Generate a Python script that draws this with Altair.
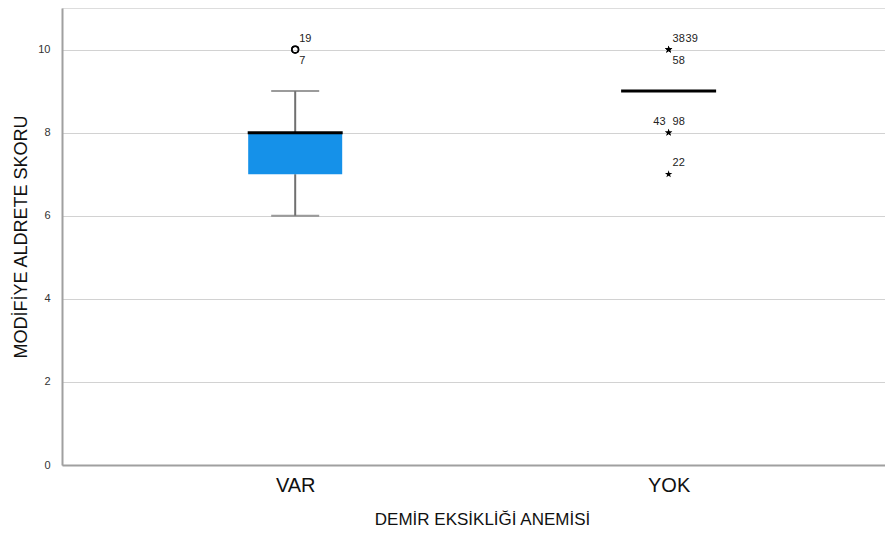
import json
import altair as alt
import pandas as pd

# ---- data ----
groups = ["VAR", "YOK"]
whisker_low = [6, 9]
q1 = [7, 9]
median = [8, 9]
q3 = [8, 9]
whisker_high = [9, 9]

out_group = ["VAR", "VAR", "YOK", "YOK", "YOK", "YOK", "YOK", "YOK"]
out_value = [10, 10, 10, 10, 10, 8, 8, 7]
out_case = ["19", "7", "38", "39", "58", "43", "98", "22"]
out_kind = ["outlier", "outlier", "extreme", "extreme", "extreme", "extreme", "extreme", "extreme"]
out_place = ["ur", "lr", "ur", "ur2", "lr", "ul", "ur", "ur"]

box = pd.DataFrame({
    "group": groups, "xi": list(range(len(groups))),
    "wl": whisker_low, "q1": q1, "med": median, "q3": q3, "wh": whisker_high,
})
out = pd.DataFrame({
    "group": out_group, "value": out_value, "case": out_case,
    "kind": out_kind, "place": out_place,
})
out["xi"] = out["group"].map({g: i for i, g in enumerate(groups)})

FONT = "Liberation Sans"
label_expr = json.dumps(groups) + "[datum.value]"

x = alt.X("xi:Q",
          scale=alt.Scale(domain=[-0.6111, 1.5661], nice=False, zero=False),
          axis=alt.Axis(values=list(range(len(groups))), labelExpr=label_expr,
                        title="DEMİR EKSİKLİĞİ ANEMİSİ", grid=False, ticks=False,
                        labelFontSize=20, labelColor="#111", labelPadding=10,
                        labelFont=FONT, titleFont=FONT, titleFontSize=17,
                        titleFontWeight="normal", titleColor="#111",
                        titleX=420, titleY=54, titleBaseline="middle",
                        domainColor="#a0a0a0", domainWidth=2))
yscale = alt.Scale(domain=[0, 11.0], nice=False)
yaxis = alt.Axis(values=[0, 2, 4, 6, 8, 10], title="MODİFİYE ALDRETE SKORU",
                 grid=True, gridColor="#d2d2d2", gridWidth=1, ticks=False,
                 labelFontSize=11, labelColor="#333", labelPadding=12, labelFont=FONT,
                 titleFont=FONT, titleFontSize=18, titleFontWeight="normal",
                 titleColor="#111", titleX=-41, titleY=228.5, titleBaseline="middle",
                 domainColor="#a0a0a0", domainWidth=2)

whisk_lo = alt.Chart(box).mark_rule(color="#707070", strokeWidth=2).encode(
    x=x, y=alt.Y("wl:Q", scale=yscale, axis=yaxis), y2="q1:Q")
whisk_hi = alt.Chart(box).mark_rule(color="#707070", strokeWidth=2).encode(
    x=x, y=alt.Y("q3:Q", scale=yscale, axis=yaxis), y2="wh:Q")
cap_lo = alt.Chart(box).transform_filter("datum.wl < datum.q1").mark_tick(
    orient="horizontal", size=48, thickness=2, color="#707070").encode(
    x=x, y=alt.Y("wl:Q", scale=yscale, axis=yaxis))
cap_hi = alt.Chart(box).transform_filter("datum.wh > datum.q3").mark_tick(
    orient="horizontal", size=48, thickness=2, color="#707070").encode(
    x=x, y=alt.Y("wh:Q", scale=yscale, axis=yaxis))
boxes = alt.Chart(box).mark_bar(size=94, orient="vertical", color="#1591e9").encode(
    x=x, y=alt.Y("q1:Q", scale=yscale, axis=yaxis), y2="q3:Q")
med = alt.Chart(box).mark_tick(orient="horizontal", size=95, thickness=3, color="#000",
                               opacity=1).encode(
    x=x, y=alt.Y("med:Q", scale=yscale, axis=yaxis))

STAR = ("M0,-1L0.2245,-0.309L0.9511,-0.309L0.3633,0.118L0.5878,0.809L0,0.382"
        "L-0.5878,0.809L-0.3633,0.118L-0.9511,-0.309L-0.2245,-0.309Z")
circles = alt.Chart(out).transform_filter("datum.kind == 'outlier'").mark_point(
    shape="circle", filled=False, size=45, color="#000", strokeWidth=1.5, opacity=1).encode(
    x=x, y=alt.Y("value:Q", scale=yscale, axis=yaxis))
stars = alt.Chart(out).transform_filter("datum.kind == 'extreme'").mark_point(
    shape=STAR, filled=True, size=60, color="#000", opacity=1).encode(
    x=x, y=alt.Y("value:Q", scale=yscale, axis=yaxis))

def labels(place, dx, dy, align):
    return alt.Chart(out).transform_filter(f"datum.place == '{place}'").mark_text(
        dx=dx, dy=dy, align=align, baseline="middle", fontSize=11, font=FONT, color="#222").encode(
        x=x, y=alt.Y("value:Q", scale=yscale, axis=yaxis), text="case:N")

chart = alt.layer(
    whisk_lo, whisk_hi, cap_lo, cap_hi, boxes, med, circles, stars,
    labels("ur", 4, -11, "left"), labels("ur2", 17, -11, "left"),
    labels("lr", 4, 11, "left"), labels("ul", -3, -11, "right"),
).properties(
    width=823, height=457,
    autosize=alt.AutoSizeParams(type="none"),
    padding={"left": 54, "top": 0, "right": 0, "bottom": 62},
).configure_view(stroke=None).configure(background="white")

chart.save("out.html", embed_options={"renderer": "svg", "actions": False})
